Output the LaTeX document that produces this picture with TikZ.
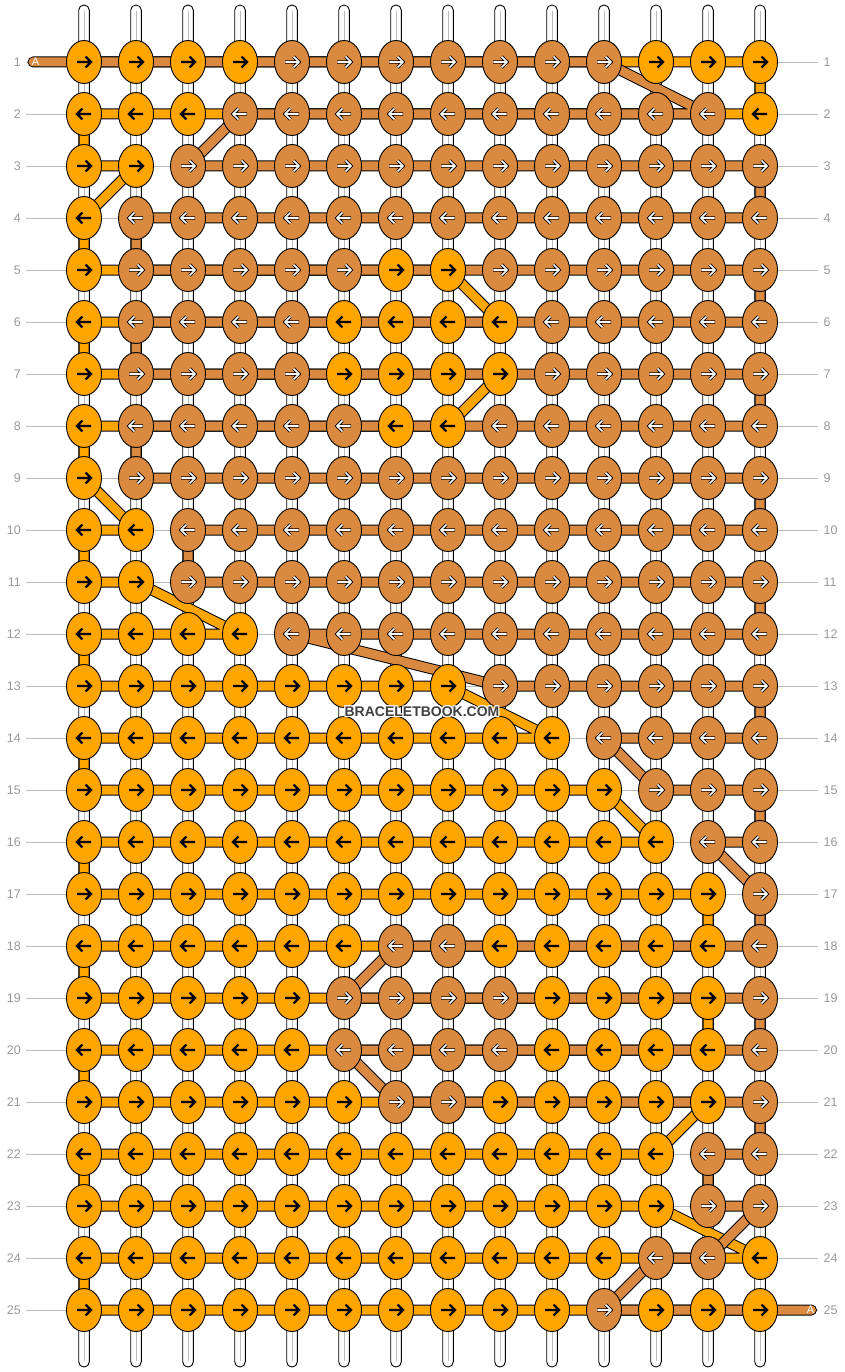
\documentclass[tikz,border=0pt]{standalone}
\usepackage{fontspec}
\setmainfont{Liberation Sans}
\usetikzlibrary{shapes.geometric}
\definecolor{org}{HTML}{FFA500}
\definecolor{brn}{HTML}{DA8A40}
\definecolor{lbl}{HTML}{999999}
\definecolor{gline}{HTML}{BBBBBB}
\definecolor{wmk}{HTML}{404040}
\tikzset{
  knot/.style={ellipse, draw=black, line width=0.9pt, minimum width=35pt, minimum height=43pt, inner sep=0pt},
  knotO/.style={knot, fill=org},
  knotB/.style={knot, fill=brn},
  thread/.style={double=#1, double distance=9pt, line width=1pt, draw=black, line join=round, line cap=round},
  stringbox/.style={draw=black, fill=white, line width=0.9pt, rounded corners=5.2pt},
  rowline/.style={draw=gline, line width=0.8pt},
  rowlbl/.style={text=lbl, inner sep=0pt, font=\fontsize{12.5}{14}\selectfont},
  leadlbl/.style={text=white, inner sep=0pt, font=\fontsize{11}{12}\selectfont},
  wmtext/.style={inner sep=0pt, font=\fontsize{14}{16}\selectfont\bfseries},
  pics/arrO/.style={code={\draw[black, line width=2.3pt] ({-7*(#1)},0) -- ({5.5*(#1)},0) ({1.6*(#1)},-5.4) -- ({7*(#1)},0) -- ({1.6*(#1)},5.4);}},
  pics/arrB/.style={code={\draw[black, line width=3.3pt] ({-7*(#1)},0) -- ({5.5*(#1)},0) ({1.6*(#1)},-5.4) -- ({7*(#1)},0) -- ({1.6*(#1)},5.4);
     \draw[white, line width=1.7pt] ({-6.6*(#1)},0) -- ({5.5*(#1)},0) ({1.6*(#1)},-5.4) -- ({7*(#1)},0) -- ({1.6*(#1)},5.4);}},
}
\begin{document}
\begin{tikzpicture}[x=1pt,y=-1pt]
\useasboundingbox (0,0) rectangle (844,1372);
% grid coordinates
\foreach \r in {1,...,25}{
  \foreach \c in {1,...,14}{
    \coordinate (p-\r-\c) at ({84+52*(\c-1)},{62+52*(\r-1)});
  }
  \coordinate (gl-\r) at (26,{62+52*(\r-1)});
  \coordinate (gr-\r) at (818,{62+52*(\r-1)});
}
\coordinate (leadL) at (33,62);
\coordinate (leadR) at (811.5,1310);
% vertical strings
\foreach \c in {1,...,14}{
  \coordinate (st-\c) at ({84+52*(\c-1)},5);
  \coordinate (sb-\c) at ({84+52*(\c-1)},1367);
  \draw[stringbox] ([xshift=-5.3pt]st-\c) rectangle ([xshift=5.3pt]sb-\c);
  \draw[gline, line width=0.6pt] ([yshift=-6pt]st-\c) -- ([yshift=6pt]sb-\c);
}
% row rules and labels
\foreach \r in {1,...,25}{
  \draw[rowline] (gl-\r) -- (gr-\r);
  \node[rowlbl, anchor=east] (ll-\r) at ([xshift=-5pt]gl-\r) {\r};
  \node[rowlbl, anchor=west] (lr-\r) at ([xshift=5.5pt]gr-\r) {\r};
}
% orange thread
\draw[thread=org] (p-1-1) -- (p-1-14) -- (p-2-14) -- (p-2-1) -- (p-3-1) -- (p-3-2) -- (p-4-1) -- (p-5-1) -- (p-5-8) -- (p-6-9) -- (p-6-1) -- (p-7-1) -- (p-7-9) -- (p-8-8) -- (p-8-1) -- (p-9-1) -- (p-10-2) -- (p-10-1) -- (p-11-1) -- (p-11-2) -- (p-12-4) -- (p-12-1) -- (p-13-1) -- (p-13-8) -- (p-14-10) -- (p-14-1) -- (p-15-1) -- (p-15-11) -- (p-16-12) -- (p-16-1) -- (p-17-1) -- (p-17-13) -- (p-18-13) -- (p-18-1) -- (p-19-1) -- (p-19-13) -- (p-20-13) -- (p-20-1) -- (p-21-1) -- (p-21-13) -- (p-22-12) -- (p-22-1) -- (p-23-1) -- (p-23-12) -- (p-24-14) -- (p-24-1) -- (p-25-1) -- (p-25-14);
% brown thread
\draw[thread=brn] (leadL) -- (p-1-11) -- (p-2-13) -- (p-2-4) -- (p-3-3) -- (p-3-14) -- (p-4-14) -- (p-4-2) -- (p-5-2) -- (p-5-14) -- (p-6-14) -- (p-6-2) -- (p-7-2) -- (p-7-14) -- (p-8-14) -- (p-8-2) -- (p-9-2) -- (p-9-14) -- (p-10-14) -- (p-10-3) -- (p-11-3) -- (p-11-14) -- (p-12-14) -- (p-12-5) -- (p-13-9) -- (p-13-14) -- (p-14-14) -- (p-14-11) -- (p-15-12) -- (p-15-14) -- (p-16-14) -- (p-16-13) -- (p-17-14) -- (p-18-14) -- (p-18-7) -- (p-19-6) -- (p-19-14) -- (p-20-14) -- (p-20-6) -- (p-21-7) -- (p-21-14) -- (p-22-14) -- (p-22-13) -- (p-23-13) -- (p-23-14) -- (p-24-13) -- (p-24-12) -- (p-25-11) -- (leadR);
\node[leadlbl] (aL) at (35.5,62) {A};
\node[leadlbl] (aR) at (810.5,1310) {A};
% knots
\foreach \r/\cols in {
 1/{O,O,O,O,B,B,B,B,B,B,B,O,O,O},
 2/{O,O,O,B,B,B,B,B,B,B,B,B,B,O},
 3/{O,O,B,B,B,B,B,B,B,B,B,B,B,B},
 4/{O,B,B,B,B,B,B,B,B,B,B,B,B,B},
 5/{O,B,B,B,B,B,O,O,B,B,B,B,B,B},
 6/{O,B,B,B,B,O,O,O,O,B,B,B,B,B},
 7/{O,B,B,B,B,O,O,O,O,B,B,B,B,B},
 8/{O,B,B,B,B,B,O,O,B,B,B,B,B,B},
 9/{O,B,B,B,B,B,B,B,B,B,B,B,B,B},
 10/{O,O,B,B,B,B,B,B,B,B,B,B,B,B},
 11/{O,O,B,B,B,B,B,B,B,B,B,B,B,B},
 12/{O,O,O,O,B,B,B,B,B,B,B,B,B,B},
 13/{O,O,O,O,O,O,O,O,B,B,B,B,B,B},
 14/{O,O,O,O,O,O,O,O,O,O,B,B,B,B},
 15/{O,O,O,O,O,O,O,O,O,O,O,B,B,B},
 16/{O,O,O,O,O,O,O,O,O,O,O,O,B,B},
 17/{O,O,O,O,O,O,O,O,O,O,O,O,O,B},
 18/{O,O,O,O,O,O,B,B,O,O,O,O,O,B},
 19/{O,O,O,O,O,B,B,B,B,O,O,O,O,B},
 20/{O,O,O,O,O,B,B,B,B,O,O,O,O,B},
 21/{O,O,O,O,O,O,B,B,O,O,O,O,O,B},
 22/{O,O,O,O,O,O,O,O,O,O,O,O,B,B},
 23/{O,O,O,O,O,O,O,O,O,O,O,O,B,B},
 24/{O,O,O,O,O,O,O,O,O,O,O,B,B,O},
 25/{O,O,O,O,O,O,O,O,O,O,B,O,O,O}}{
  \foreach \k [count=\c] in \cols {
    \ifodd\r\relax\def\d{1}\else\def\d{-1}\fi
    \if\k B
      \node[knotB] (n-\r-\c) at (p-\r-\c) {};
      \pic at (p-\r-\c) {arrB=\d};
    \else
      \node[knotO] (n-\r-\c) at (p-\r-\c) {};
      \pic at (p-\r-\c) {arrO=\d};
    \fi
  }
}
% watermark
\coordinate (wmc) at (422,711.5);
\foreach \dx/\dy [count=\i] in {-1/-1,-1/0,-1/1,0/-1,0/1,1/-1,1/0,1/1}{
  \node[wmtext, text=white, xshift=\dx pt, yshift=\dy pt] (wmh-\i) at (wmc) {BRACELETBOOK.COM};
}
\node[wmtext, text=wmk] (wm) at (wmc) {BRACELETBOOK.COM};
\end{tikzpicture}
\end{document}
